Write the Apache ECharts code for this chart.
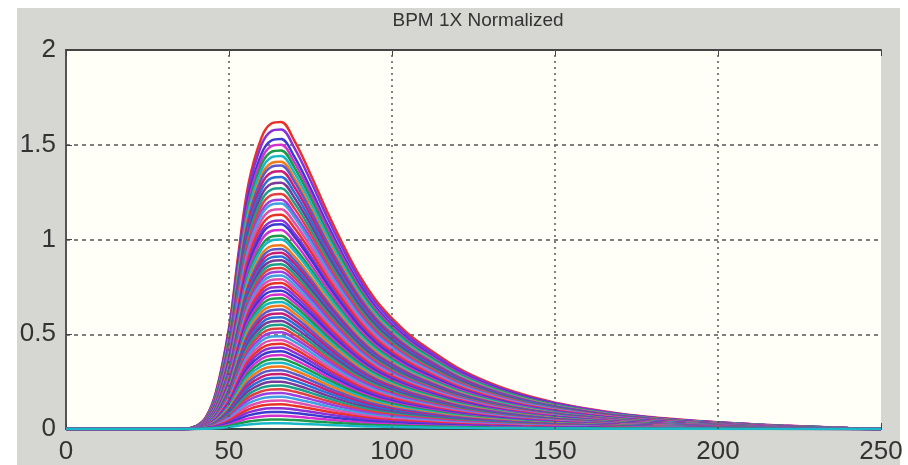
<!DOCTYPE html>
<html>
<head>
<meta charset="utf-8">
<script src="https://cdn.jsdelivr.net/npm/echarts@6/dist/echarts.min.js"></script>
<style>
  html, body { margin: 0; padding: 0; background: #fff; }
  #main { width: 908px; height: 465px; }
</style>
</head>
<body>
<div id="main"></div>
<script>
// sample positions along x
var xs = [0, 10, 20, 30, 36, 40, 43, 46, 50, 53, 56, 60, 63, 66, 70, 75, 80, 85, 90, 95, 100, 105, 110, 120, 130, 140, 150, 160, 170, 180, 190, 200, 210, 220, 230, 240, 250];
// pulse shape (fraction of peak)
var shape = [0, 0, 0, 0, 0, 0.01, 0.04, 0.12, 0.33, 0.58, 0.8, 0.95, 0.995, 1.0, 0.94, 0.83, 0.71, 0.6, 0.5, 0.42, 0.36, 0.31, 0.27, 0.2, 0.15, 0.113, 0.086, 0.066, 0.05, 0.038, 0.029, 0.022, 0.016, 0.011, 0.007, 0.003, 0];
// peak heights of the curves
var peaks = [1.62, 1.58, 1.53, 1.5, 1.47, 1.44, 1.41, 1.39, 1.36, 1.33, 1.3, 1.27, 1.24, 1.21, 1.19, 1.16, 1.13, 1.1, 1.08, 1.05, 1.02, 1.0, 0.97, 0.95, 0.93, 0.91, 0.89, 0.87, 0.85, 0.83, 0.81, 0.79, 0.77, 0.75, 0.73, 0.71, 0.69, 0.67, 0.65, 0.63, 0.61, 0.59, 0.57, 0.55, 0.53, 0.51, 0.49, 0.47, 0.45, 0.43, 0.41, 0.39, 0.37, 0.35, 0.33, 0.31, 0.29, 0.27, 0.25, 0.23, 0.21, 0.19, 0.17, 0.15, 0.13, 0.11, 0.09, 0.07, 0.05, 0.03];
var colors = ['#e8312a', '#8b2fd6', '#3a3ad0', '#d42fd0', '#1a9a4a', '#19b8c8', '#f07a1c', '#5a5ac8', '#c81e78', '#2a6fd6', '#7a3a9a', '#1aa08a', '#e04040', '#9a40e0', '#40a0e0', '#e050b0'];
var xTicks = [0, 50, 100, 150, 200, 250];
var xGrid = [50, 100, 150, 200];
var yTicks = [0, 0.5, 1, 1.5, 2];

var myChart = echarts.init(document.getElementById('main'));

var gridColor = '#555';

var series = peaks.map(function (p, k) {
  return {
    type: 'line',
    xAxisIndex: 0,
    yAxisIndex: 0,
    showSymbol: false,
    smooth: 0.35,
    silent: true,
    lineStyle: { width: 2.5, color: colors[k % colors.length] },
    data: xs.map(function (x, i) { return [x, p * shape[i]]; })
  };
});

// vertical dotted grid lines, drawn below the curves
series.unshift({
  type: 'line',
  data: [],
  silent: true,
  z: 1,
  markLine: {
    silent: true,
    symbol: 'none',
    animation: false,
    label: { show: false },
    lineStyle: { color: gridColor, type: [2, 4], width: 1.5 },
    data: xGrid.map(function (v) { return { xAxis: v }; })
  }
});

var font = 'Liberation Sans, Arial, sans-serif';

var option = {
  animation: false,
  backgroundColor: '#ffffff',
  graphic: [{
    type: 'rect', z: -10,
    shape: { x: 17, y: 8, width: 883, height: 457 },
    style: { fill: '#d6d6d2' }
  }],
  title: {
    text: 'BPM 1X Normalized',
    left: 473, top: 6, textAlign: 'center',
    textStyle: { fontFamily: font, fontSize: 19, fontWeight: 'normal', color: '#333' }
  },
  grid: {
    left: 66, right: 27, top: 50, bottom: 35,
    show: true, backgroundColor: '#fffff8', borderWidth: 0
  },
  xAxis: [{
    type: 'value', min: 0, max: 250, interval: 50,
    axisLine: { lineStyle: { color: '#2f4644', width: 2 } },
    axisTick: { inside: true, length: 6, lineStyle: { color: '#444' } },
    axisLabel: {
      margin: 10, color: '#333', fontFamily: font, fontSize: 26,
      formatter: function (v) { return xTicks.indexOf(v) >= 0 ? String(v) : ''; }
    },
    splitLine: { show: false }
  }, {
    type: 'value', min: 0, max: 250, interval: 50, position: 'top',
    axisLine: { lineStyle: { color: '#444', width: 2 } },
    axisTick: { inside: true, length: 6, lineStyle: { color: '#444' } },
    axisLabel: { show: false },
    splitLine: { show: false }
  }],
  yAxis: [{
    type: 'value', min: 0, max: 2, interval: 0.5,
    axisLine: { show: true, lineStyle: { color: '#555', width: 2 } },
    axisTick: { show: true, inside: true, length: 6, lineStyle: { color: '#444' } },
    axisLabel: {
      margin: 10, color: '#333', fontFamily: font, fontSize: 26,
      formatter: function (v) { return yTicks.indexOf(v) >= 0 ? String(v) : ''; }
    },
    splitLine: { show: true, lineStyle: { color: gridColor, type: [4, 4], width: 1.5 } }
  }],
  series: series
};

option && myChart.setOption(option);
</script>
</body>
</html>
